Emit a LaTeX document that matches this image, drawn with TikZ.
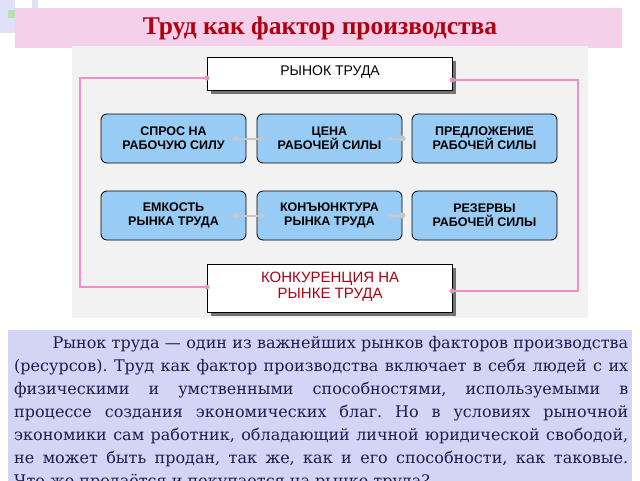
\documentclass[tikz,border=0pt]{standalone}
\usepackage{fontspec}
\setmainfont{Liberation Serif}
\setsansfont{Liberation Sans}
\newfontfamily\bodyfont{DejaVu Serif}
\usetikzlibrary{arrows.meta,positioning}
\definecolor{titlepink}{HTML}{F4D0EA}
\definecolor{titlered}{HTML}{B00010}
\definecolor{panelgray}{HTML}{F2F2F2}
\definecolor{boxblue}{HTML}{99CCF5}
\definecolor{linkpink}{HTML}{F090C8}
\definecolor{textlav}{HTML}{D4D4F4}
\definecolor{textnavy}{HTML}{1C1C50}
\definecolor{sidelav}{HTML}{E0E0F8}
\tikzset{
  blockbox/.style={draw=black, thick, fill=boxblue, rounded corners=6pt,
    minimum width=145pt, minimum height=49pt, align=center,
    font=\sffamily\bfseries\fontsize{12.5}{14}\selectfont},
  framebox/.style={draw=black, very thick, fill=white, minimum width=245pt,
    align=center, inner sep=2pt},
  linkline/.style={line width=2pt, draw=black!22, {Circle[length=6pt]}-{Stealth[length=7pt]}},
  pinkline/.style={linkpink, line width=1.2pt}
}
\begin{document}
\frenchspacing
\begin{tikzpicture}[x=1pt, y=-1pt]
    \clip (0,0) rectangle (640,480);
    \fill[white] (0,0) rectangle (640,480);
    % corner marks
    \fill[sidelav] (0,0) rectangle (15,33);
    \fill[sidelav] (32,0) rectangle (38,20);
    \fill[gray!60!green!40] (8,10) rectangle (16,18);
    % title
    \fill[titlepink] (15,8) rectangle (622,48);
    \node[font=\bfseries\fontsize{25.5}{28}\selectfont, text=titlered] (title) at (320,28) {Труд как фактор производства};
    % panel
    \fill[panelgray] (72,46) rectangle (588,318);
    % frames
    \fill[black!55] (211,61) rectangle (456,94);
    \node[framebox, minimum height=33pt, anchor=north west,
      font=\sffamily\fontsize{14}{14}\selectfont] (market) at (207,57) {\raisebox{7pt}{РЫНОК ТРУДА}};
    \fill[black!55] (211,268) rectangle (456,316);
    \node[framebox, minimum height=48pt, anchor=north west, text=titlered,
      font=\sffamily\fontsize{15}{13.5}\selectfont] (compet) at (207,264) {\raisebox{7pt}{\shortstack{КОНКУРЕНЦИЯ НА\\РЫНКЕ ТРУДА}}};
    % pink loops
    \coordinate (ml) at (207,78);
    \coordinate (mr) at (452,80);
    \coordinate (cl) at (207,287);
    \coordinate (cr) at (452,291);
    \draw[pinkline] (ml) -| (80,287) -- (cl);
    \draw[pinkline] (mr) -| (578,291) -- (cr);
    \foreach \p in {ml,mr,cl,cr} \fill[linkpink] (\p) circle (2.5pt);
    % blue boxes
    \node[blockbox] (demand) at (173.5,138.5) {СПРОС НА\\РАБОЧУЮ СИЛУ};
    \node[blockbox] (price) at (329.5,138.5) {ЦЕНА\\РАБОЧЕЙ СИЛЫ};
    \node[blockbox] (supply) at (484.5,138.5) {ПРЕДЛОЖЕНИЕ\\РАБОЧЕЙ СИЛЫ};
    \node[blockbox] (capacity) at (173.5,215.5) {ЕМКОСТЬ\\РЫНКА ТРУДА};
    \node[blockbox] (conj) at (329.5,215.5) {КОНЪЮНКТУРА\\РЫНКА ТРУДА};
    \node[blockbox] (reserve) at (484.5,215.5) {РЕЗЕРВЫ\\РАБОЧЕЙ СИЛЫ};
    % links
    \draw[linkline] ([xshift=-14pt]demand.east) -- ([xshift=10pt]price.west);
    \draw[linkline] ([xshift=-6pt]supply.west) -- ([xshift=-16pt]price.east);
    \draw[linkline] ([xshift=-14pt]capacity.east) -- ([xshift=10pt]conj.west);
    \draw[linkline] ([xshift=-6pt]reserve.west) -- ([xshift=-16pt]conj.east);
    % text block
    \fill[textlav] (8,330) rectangle (632,490);
    \node[anchor=north west, text width=614pt, align=justify, text=textnavy, inner sep=0pt,
      font=\bodyfont\fontsize{16}{23}\selectfont] (body) at (14,336)
      {\hspace*{2.4em}Рынок труда — один из важнейших рынков факторов производства \linebreak
      (ресурсов). Труд как фактор производства включает в себя людей с их \linebreak
      физическими и умственными способностями, используемыми в \linebreak
      процессе создания экономических благ. Но в условиях рыночной \linebreak
      экономики сам работник, обладающий личной юридической свободой, \linebreak
      не может быть продан, так же, как и его способности, как таковые. \linebreak
      Что же продаётся и покупается на рынке труда?\par};
\end{tikzpicture}
\end{document}
